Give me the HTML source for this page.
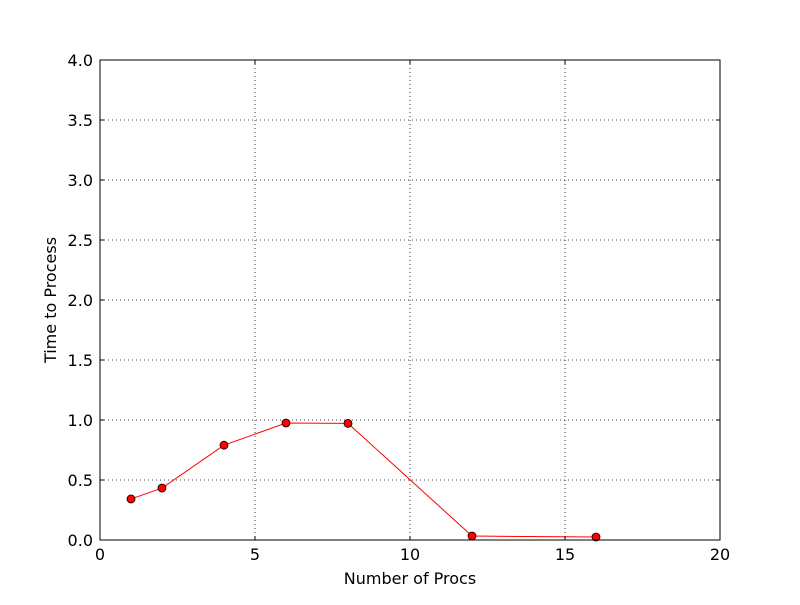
<!DOCTYPE html>
<html><head><meta charset="utf-8"><style>
body{margin:0;background:#fff;}
svg text{font-family:"DejaVu Sans","Liberation Sans",sans-serif;font-size:16px;fill:#000;}
</style></head><body>
<svg id="chart" width="800" height="600" xmlns="http://www.w3.org/2000/svg">
<rect width="800" height="600" fill="#fff"/>
<g id="grid"></g>
<g id="series"></g>
<rect x="100" y="60" width="620" height="480" fill="none" stroke="#000" stroke-width="1"/>
<g id="ticks"></g>
<text x="410" y="584" text-anchor="middle">Number of Procs</text>
<text x="56" y="300" text-anchor="middle" transform="rotate(-90 56 300)">Time to Process</text>
</svg>
<script>
const procs = [1, 2, 4, 6, 8, 12, 16];
const times = [0.342, 0.433, 0.79, 0.975, 0.972, 0.033, 0.025];
const xTicks = [0, 5, 10, 15, 20];
const xTickLabels = ["0", "5", "10", "15", "20"];
const yTicks = [0, 0.5, 1, 1.5, 2, 2.5, 3, 3.5, 4];
const yTickLabels = ["0.0", "0.5", "1.0", "1.5", "2.0", "2.5", "3.0", "3.5", "4.0"];
const NS = "http://www.w3.org/2000/svg";
const X = v => 100 + v / 20 * 620;
const Y = v => 540 - v / 4 * 480;
function mk(tag, attrs, parent){const e=document.createElementNS(NS,tag);for(const k in attrs)e.setAttribute(k,attrs[k]);parent.appendChild(e);return e;}
const grid=document.getElementById('grid'), ticks=document.getElementById('ticks'), series=document.getElementById('series');
xTicks.forEach((t,i)=>{
  const x=X(t);
  const g=mk('line',{x1:x,x2:x,y1:60,y2:540,stroke:'#000','stroke-dasharray':'1,3','stroke-width':0.8},grid);
  
  
  mk('line',{x1:x,x2:x,y1:540,y2:536,stroke:'#000'},ticks);
  mk('line',{x1:x,x2:x,y1:60,y2:64,stroke:'#000'},ticks);
  const tx=mk('text',{x:x,y:560,'text-anchor':'middle'},ticks);
  tx.textContent=xTickLabels[i];
  
  
});
yTicks.forEach((t,i)=>{
  const y=Y(t);
  const g=mk('line',{x1:100,x2:720,y1:y,y2:y,stroke:'#000','stroke-dasharray':'1,3','stroke-width':0.8},grid);
  
  
  mk('line',{x1:100,x2:104,y1:y,y2:y,stroke:'#000'},ticks);
  mk('line',{x1:716,x2:720,y1:y,y2:y,stroke:'#000'},ticks);
  const tx=mk('text',{x:93,y:y+6,'text-anchor':'end'},ticks);
  tx.textContent=yTickLabels[i];
  
  
});
const pl=mk('polyline',{points:procs.map((p,i)=>X(p)+','+Y(times[i])).join(' '),fill:'none',stroke:'#f00','stroke-width':1},series);


procs.forEach((p,i)=>{
  const c=mk('circle',{cx:X(p),cy:Y(times[i]),r:4,fill:'#f00',stroke:'#000','stroke-width':0.8},series);
  
  
});
</script>
</body></html>
